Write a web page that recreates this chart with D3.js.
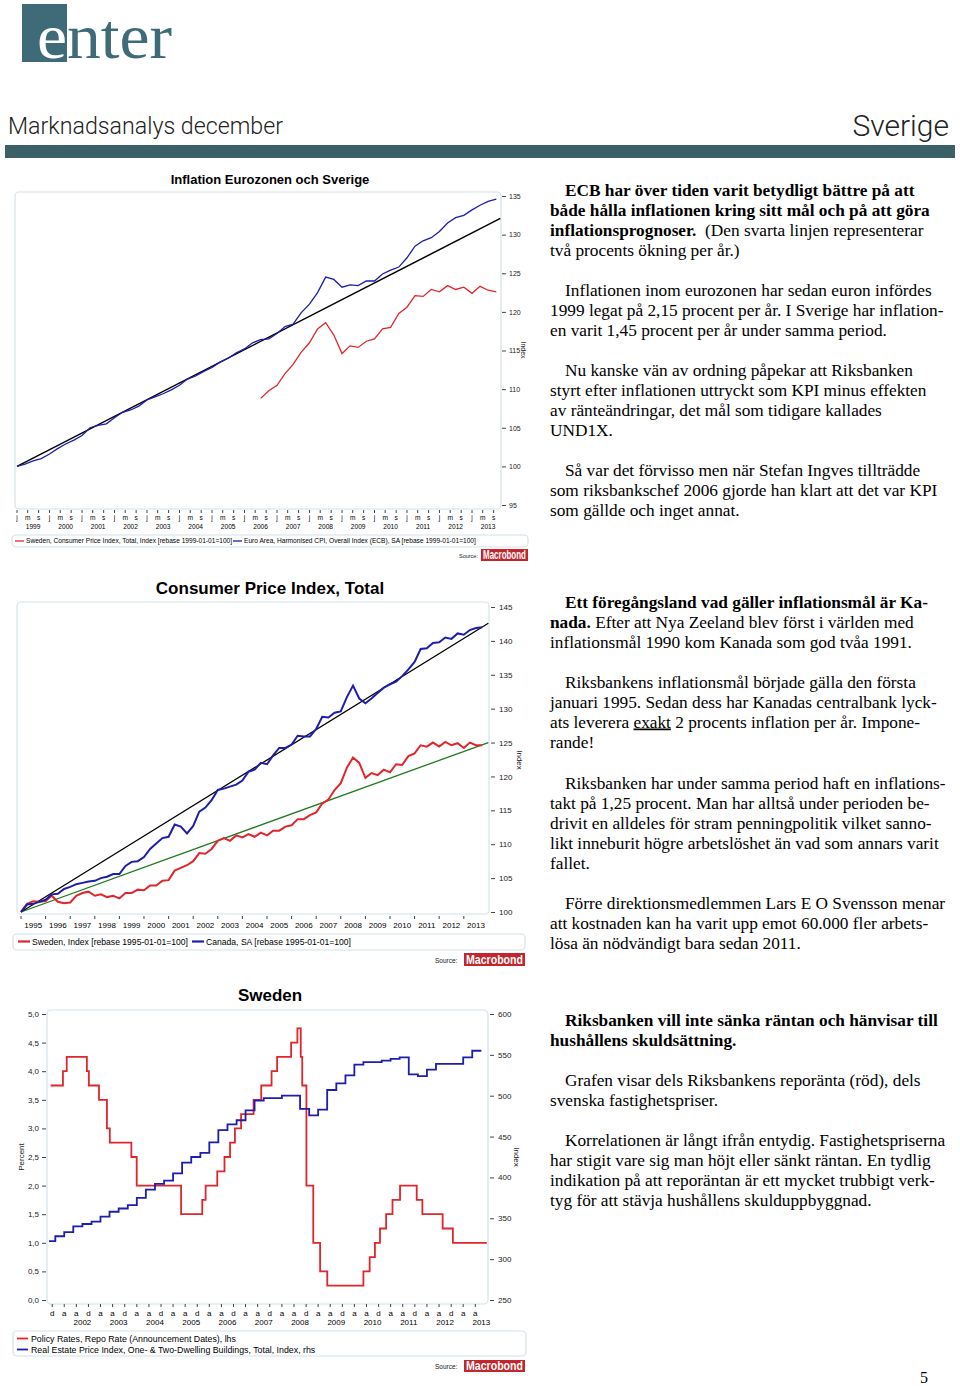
<!DOCTYPE html>
<html><head><meta charset="utf-8">
<script src="https://cdn.jsdelivr.net/npm/d3@7/dist/d3.min.js"></script>
<style>body{margin:0;background:#fff}svg{display:block}</style>
</head><body>
<svg id="page" width="960" height="1386"></svg>
<script>
// ---------------- DATA ----------------
// Chart 1: Inflation Eurozonen och Sverige (quarterly)
const c1SwedenStart = "2006-07-01";
const c1Sweden = [108.8,109.8, 110.5,112.0,113.2,114.8, 116.0,117.8,118.6,117.0, 114.6,115.6,115.4,116.2,
  116.5,117.8,118.0,119.8, 120.6,122.1,122.0,122.9, 122.6,123.4,122.9,123.2, 122.4,123.3,122.8,122.6];
const c1EuroStart = "1999-01-01";
const c1Euro = [100.0,100.3,100.7,101.0, 101.6,102.3,102.9,103.4, 104.0,105.0,105.3,105.5, 106.3,107.0,107.3,107.8,
  108.6,109.0,109.4,109.9, 110.5,111.3,111.7,112.3, 112.8,113.5,114.0,114.7, 115.2,116.0,116.4,116.5,
  117.2,118.1,118.4,119.9, 121.0,122.5,124.5,124.2, 123.2,123.5,123.4,124.0, 124.0,124.9,125.4,125.8,
  127.0,128.5,129.2,129.6, 130.4,131.5,132.2,132.5, 133.2,133.8,134.3,134.6];
const c1TrendDates = ["1999-01-01","2013-11-15"];
const c1Trend = [100, 132.1];
const c1YTicks = [95,100,105,110,115,120,125,130,135];
const c1Years = [1999,2000,2001,2002,2003,2004,2005,2006,2007,2008,2009,2010,2011,2012,2013];
const c1Legend = ["Sweden, Consumer Price Index, Total, Index [rebase 1999-01-01=100]",
                  "Euro Area, Harmonised CPI, Overall Index (ECB), SA [rebase 1999-01-01=100]"];

// Chart 2: Consumer Price Index, Total (quarterly, from 1995-01)
const c2Start = "1995-01-01";
const c2Sweden = [100.0,101.2,101.6,101.5, 101.6,102.4,101.5,101.3, 101.4,102.4,102.8,103.0, 102.4,102.6,102.2,102.4,
  102.0,102.8,102.8,103.3, 103.2,103.9,103.9,104.6, 104.7,106.1,106.5,106.9, 107.5,108.7,108.6,109.3,
  110.5,110.9,110.5,111.3, 111.0,111.5,111.1,111.7, 111.3,112.0,112.0,112.6, 112.8,113.7,113.7,114.3,
  114.7,116.0,116.6,118.0, 119.0,121.3,122.8,122.0, 119.8,120.5,120.2,121.0, 120.6,121.8,121.7,123.0,
  123.4,124.6,124.4,125.0, 124.4,125.1,124.6,124.9, 124.2,125.0,124.6,124.6];
const c2Canada = [100.0,101.1,101.2,101.5, 101.8,102.6,102.7,103.4, 103.7,104.1,104.3,104.5, 104.6,105.0,105.2,105.6,
  105.6,106.8,107.4,107.5, 108.1,109.3,110.1,110.9, 111.1,112.9,112.6,111.6, 112.7,114.8,115.4,116.5,
  118.0,118.2,118.5,118.8, 119.4,120.7,121.0,122.0, 121.8,123.1,124.2,124.2, 124.7,126.0,125.9,125.9,
  127.0,128.8,128.7,129.4, 129.6,131.7,133.4,131.5, 130.8,131.5,132.3,133.1, 133.6,134.0,134.8,135.8,
  136.9,138.8,138.9,139.7, 139.8,140.5,140.3,141.1, 140.9,141.6,141.9,142.0];
const c2TrendDates = ["1995-01-01","2013-12-31"];
const c2TrendCanada = [100, 142.6];
const c2TrendSweden = [100, 125.0];
const c2YTicks = [100,105,110,115,120,125,130,135,140,145];
const c2Years = [1995,1996,1997,1998,1999,2000,2001,2002,2003,2004,2005,2006,2007,2008,2009,2010,2011,2012,2013];
const c2Legend = ["Sweden, Index [rebase 1995-01-01=100]", "Canada, SA [rebase 1995-01-01=100]"];

// Chart 3: Sweden – repo rate (lhs) and real estate price index (rhs)
const c3RateDates = ["2001-11-15","2002-03-19","2002-04-26","2002-11-15","2002-12-05","2003-03-17","2003-06-05","2003-07-04",
  "2004-02-06","2004-03-31","2005-06-21","2006-01-20","2006-02-23","2006-06-20","2006-09-01","2006-10-27","2006-12-15",
  "2007-02-15","2007-06-21","2007-09-06","2007-12-19","2008-02-13","2008-07-03","2008-09-04","2008-10-08","2008-10-23",
  "2008-12-04","2009-02-11","2009-04-21","2009-07-02","2010-07-01","2010-09-02","2010-10-25","2010-12-15","2011-02-15",
  "2011-04-20","2011-07-05","2011-12-20","2012-02-15","2012-09-06","2012-12-18","2013-11-25"];
const c3Rate = [3.75,4.00,4.25,4.00,3.75,3.50,3.00,2.75,
  2.50,2.00,1.50,1.75,2.00,2.25,2.50,2.75,3.00,
  3.25,3.50,3.75,4.00,4.25,4.50,4.75,4.25,3.75,
  2.00,1.00,0.50,0.25,0.50,0.75,1.00,1.25,1.50,
  1.75,2.00,1.75,1.50,1.25,1.00,1.00];
const c3HouseStart = "2001-10-01";
const c3House = [322, 328,333,340,343, 346,352,358,362, 366,375,385,392, 396,405,418,425, 430,443,458,465,
  470,482,494,497, 497,500,500,484, 476,483,507,515, 525,538,541,541, 543,545,547,526, 524,532,539,539, 539,547,555,555];
const c3LeftTicks = [0,0.5,1,1.5,2,2.5,3,3.5,4,4.5,5];
const c3RightTicks = [250,300,350,400,450,500,550,600];
const c3Years = [2002,2003,2004,2005,2006,2007,2008,2009,2010,2011,2012,2013];
const c3Legend = ["Policy Rates, Repo Rate (Announcement Dates), lhs",
                  "Real Estate Price Index, One- & Two-Dwelling Buildings, Total, Index, rhs"];

// ---------------- STYLE ----------------
const RED = "#e0262c", BLUE = "#1d1db0", BLACK = "#000", GREEN = "#1f7a1f";
const FRAME = "#d4e2e8";
const SANS = "'Liberation Sans', Arial, sans-serif", SERIF = "'Liberation Serif', 'Times New Roman', serif";

const svg = d3.select("#page");
const parse = d3.timeParse("%Y-%m-%d");
const quarterly = (start, vals) => vals.map((v,i) => ({date: d3.timeMonth.offset(parse(start), i*3), value: v}));
const paired = (dates, vals) => vals.map((v,i) => ({date: parse(dates[i]), value: v}));

// ---------------- HEADER ----------------
svg.append("rect").attr("x",22).attr("y",4).attr("width",45).attr("height",58).attr("fill","#3f6a77");
const logo = svg.append("text").attr("x",37).attr("y",58).attr("font-family",SERIF).attr("font-size",64)
  .attr("textLength",135).attr("lengthAdjust","spacingAndGlyphs");
logo.append("tspan").attr("fill","#fff").text("e");
logo.append("tspan").attr("fill","#3f6a77").text("nter");
svg.append("text").attr("x",8).attr("y",134).attr("font-family","Roboto, sans-serif").attr("font-weight",300)
  .attr("font-size",24).attr("fill","#222").attr("textLength",275).attr("lengthAdjust","spacingAndGlyphs").text("Marknadsanalys december");
svg.append("text").attr("x",949).attr("y",136).attr("text-anchor","end").attr("font-family","Roboto, sans-serif").attr("font-weight",300)
  .attr("font-size",30).attr("fill","#222").text("Sverige");
svg.append("rect").attr("x",5).attr("y",145).attr("width",950).attr("height",13).attr("fill","#3b6067");

function macrobond(x, y, w, h, srcX, fs) {
  svg.append("text").attr("x",srcX).attr("y",y+h-3).attr("font-family",SANS).attr("font-size",fs).attr("fill","#222").text("Source:");
  svg.append("rect").attr("x",x).attr("y",y).attr("width",w).attr("height",h).attr("fill","#c4252c");
  svg.append("text").attr("x",x+w/2).attr("y",y+h-2).attr("text-anchor","middle").attr("font-family",SANS).attr("font-weight","bold")
    .attr("font-size",h).attr("fill","#fff").attr("textLength",w-4).attr("lengthAdjust","spacingAndGlyphs").text("Macrobond");
}
function frame(x,y,w,h){ svg.append("rect").attr("x",x).attr("y",y).attr("width",w).attr("height",h).attr("rx",4)
  .attr("fill","none").attr("stroke",FRAME).attr("stroke-width",1.2); }
function rotLabel(x,y,angle,text,fs){ svg.append("text").attr("transform",`translate(${x},${y}) rotate(${angle})`)
  .attr("text-anchor","middle").attr("font-family",SANS).attr("font-size",fs).attr("fill","#222").text(text); }

// ---------------- CHART 1 ----------------
{
  const x = d3.scaleTime().domain([parse("1999-01-01"), parse("2014-01-01")]).range([17, 504.5]);
  const y = d3.scaleLinear().domain([95,135]).range([505,196]);
  svg.append("text").attr("x",270).attr("y",184).attr("text-anchor","middle").attr("font-family",SANS).attr("font-weight","bold")
    .attr("font-size",13).text("Inflation Eurozonen och Sverige");
  frame(15,192,486,317);
  const ax = d3.axisRight(y).tickValues(c1YTicks).tickSize(4).tickPadding(3);
  const g = svg.append("g").attr("transform","translate(502,0)").call(ax);
  g.select(".domain").remove();
  g.selectAll("text").attr("font-family",SANS).attr("font-size",7).attr("fill","#222");
  g.selectAll("line").attr("stroke","#444");
  rotLabel(521,350,90,"Index",7);
  const mticks = d3.timeMonth.range(parse("1999-01-01"), parse("2013-11-01"), 4);
  const xt = svg.append("g");
  xt.selectAll("line").data(mticks).join("line").attr("x1",d=>x(d)).attr("x2",d=>x(d)).attr("y1",510).attr("y2",513).attr("stroke","#444");
  xt.selectAll("text.m").data(mticks).join("text").attr("class","m").attr("x",d=>x(d)).attr("y",520).attr("text-anchor","middle")
    .attr("font-family",SANS).attr("font-size",6.6).text(d=>d3.timeFormat("%b")(d)[0].toLowerCase());
  xt.selectAll("text.y").data(c1Years).join("text").attr("class","y").attr("x",d=>x(new Date(d,6,1))).attr("y",528.5)
    .attr("text-anchor","middle").attr("font-family",SANS).attr("font-size",6.6).text(d=>d);
  const line = d3.line().x(d=>x(d.date)).y(d=>y(d.value));
  svg.append("path").attr("d",line(paired(c1TrendDates,c1Trend))).attr("stroke",BLACK).attr("stroke-width",1.5).attr("fill","none");
  svg.append("path").attr("d",line(quarterly(c1SwedenStart,c1Sweden))).attr("stroke",RED).attr("stroke-width",1.3).attr("fill","none");
  svg.append("path").attr("d",line(quarterly(c1EuroStart,c1Euro))).attr("stroke",BLUE).attr("stroke-width",1.3).attr("fill","none");
  frame(12,535,516,12);
  svg.append("line").attr("x1",15).attr("x2",24).attr("y1",541).attr("y2",541).attr("stroke",RED).attr("stroke-width",1.3);
  svg.append("text").attr("x",26).attr("y",543.3).attr("font-family",SANS).attr("font-size",6.6).text(c1Legend[0]);
  svg.append("line").attr("x1",233).attr("x2",242).attr("y1",541).attr("y2",541).attr("stroke",BLUE).attr("stroke-width",1.3);
  svg.append("text").attr("x",244).attr("y",543.3).attr("font-family",SANS).attr("font-size",6.6).text(c1Legend[1]);
  macrobond(481,549,47,12,459,5.5);
}

// ---------------- CHART 2 ----------------
{
  const x = d3.scaleTime().domain([parse("1995-01-01"), parse("2014-01-01")]).range([21, 488.4]);
  const y = d3.scaleLinear().domain([100,145]).range([912,607]);
  svg.append("text").attr("x",270).attr("y",594).attr("text-anchor","middle").attr("font-family",SANS).attr("font-weight","bold")
    .attr("font-size",17).text("Consumer Price Index, Total");
  frame(17,602,472,312);
  const ax = d3.axisRight(y).tickValues(c2YTicks).tickSize(4).tickPadding(4);
  const g = svg.append("g").attr("transform","translate(491,0)").call(ax);
  g.select(".domain").remove();
  g.selectAll("text").attr("font-family",SANS).attr("font-size",8).attr("fill","#222");
  g.selectAll("line").attr("stroke","#444");
  rotLabel(517,760,90,"Index",8);
  const yt = c2Years.map(d=>new Date(d,0,1));
  const xt = svg.append("g");
  xt.selectAll("line").data(yt).join("line").attr("x1",d=>x(d)).attr("x2",d=>x(d)).attr("y1",916).attr("y2",919).attr("stroke","#444");
  xt.selectAll("text").data(c2Years).join("text").attr("x",d=>x(new Date(d,6,1))).attr("y",927.5)
    .attr("text-anchor","middle").attr("font-family",SANS).attr("font-size",8).text(d=>d);
  const line = d3.line().x(d=>x(d.date)).y(d=>y(d.value));
  svg.append("path").attr("d",line(paired(c2TrendDates,c2TrendSweden))).attr("stroke",GREEN).attr("stroke-width",1.3).attr("fill","none");
  svg.append("path").attr("d",line(paired(c2TrendDates,c2TrendCanada))).attr("stroke",BLACK).attr("stroke-width",1.3).attr("fill","none");
  svg.append("path").attr("d",line(quarterly(c2Start,c2Sweden))).attr("stroke",RED).attr("stroke-width",2).attr("fill","none");
  svg.append("path").attr("d",line(quarterly(c2Start,c2Canada))).attr("stroke",BLUE).attr("stroke-width",2).attr("fill","none");
  frame(13,934,512,16);
  svg.append("line").attr("x1",18).attr("x2",30).attr("y1",941.5).attr("y2",941.5).attr("stroke",RED).attr("stroke-width",2.2);
  svg.append("text").attr("x",32).attr("y",944.5).attr("font-family",SANS).attr("font-size",8.6).text(c2Legend[0]);
  svg.append("line").attr("x1",192).attr("x2",204).attr("y1",941.5).attr("y2",941.5).attr("stroke",BLUE).attr("stroke-width",2.2);
  svg.append("text").attr("x",206).attr("y",944.5).attr("font-family",SANS).attr("font-size",8.6).text(c2Legend[1]);
  macrobond(464,953,61,13,435,6.5);
}

// ---------------- CHART 3 ----------------
{
  const x = d3.scaleTime().domain([parse("2002-01-01"), parse("2014-01-01")]).range([55.3, 490.5]);
  const yl = d3.scaleLinear().domain([0,5]).range([1300,1014]);
  const yr = d3.scaleLinear().domain([250,600]).range([1300,1014]);
  svg.append("text").attr("x",270).attr("y",1001).attr("text-anchor","middle").attr("font-family",SANS).attr("font-weight","bold")
    .attr("font-size",17).text("Sweden");
  frame(47,1010,441,294);
  const fmt = d => d3.format(".1f")(d).replace(".",",");
  const gl = svg.append("g").attr("transform","translate(46,0)").call(d3.axisLeft(yl).tickValues(c3LeftTicks).tickFormat(fmt).tickSize(4).tickPadding(3));
  const gr = svg.append("g").attr("transform","translate(490,0)").call(d3.axisRight(yr).tickValues(c3RightTicks).tickSize(4).tickPadding(4));
  [gl,gr].forEach(g=>{ g.select(".domain").remove(); g.selectAll("text").attr("font-family",SANS).attr("font-size",8).attr("fill","#222");
    g.selectAll("line").attr("stroke","#444"); });
  rotLabel(24,1157,-90,"Percent",8);
  rotLabel(514,1157,90,"Index",8);
  const mticks = d3.timeMonth.range(parse("2001-12-01"), parse("2013-11-01"), 4);
  const xt = svg.append("g");
  xt.selectAll("line").data(mticks).join("line").attr("x1",d=>x(d)).attr("x2",d=>x(d)).attr("y1",1304).attr("y2",1307).attr("stroke","#444");
  xt.selectAll("text.m").data(mticks).join("text").attr("class","m").attr("x",d=>x(d)).attr("y",1316).attr("text-anchor","middle")
    .attr("font-family",SANS).attr("font-size",8).text(d=>d3.timeFormat("%b")(d)[0].toLowerCase());
  xt.selectAll("text.y").data(c3Years).join("text").attr("class","y").attr("x",d=>x(new Date(d,9,1))).attr("y",1325)
    .attr("text-anchor","middle").attr("font-family",SANS).attr("font-size",8).text(d=>d);
  svg.append("clipPath").attr("id","c3clip").append("rect").attr("x",49).attr("y",1005).attr("width",440).attr("height",300);
  const house = quarterly(c3HouseStart,c3House);
  const lr = d3.line().curve(d3.curveStepAfter).x(d=>x(d.date)).y(d=>yl(d.value));
  const lh = d3.line().curve(d3.curveStepAfter).x(d=>x(d.date)).y(d=>yr(d.value));
  svg.append("path").attr("clip-path","url(#c3clip)").attr("d",lr(paired(c3RateDates,c3Rate))).attr("stroke",RED).attr("stroke-width",1.8).attr("fill","none");
  svg.append("path").attr("clip-path","url(#c3clip)").attr("d",lh(house)).attr("stroke",BLUE).attr("stroke-width",1.8).attr("fill","none");
  frame(13,1331,513,25);
  svg.append("line").attr("x1",17).attr("x2",28).attr("y1",1338.5).attr("y2",1338.5).attr("stroke",RED).attr("stroke-width",1.8);
  svg.append("text").attr("x",31).attr("y",1341.5).attr("font-family",SANS).attr("font-size",8.8).text(c3Legend[0]);
  svg.append("line").attr("x1",17).attr("x2",28).attr("y1",1349.5).attr("y2",1349.5).attr("stroke",BLUE).attr("stroke-width",1.8);
  svg.append("text").attr("x",31).attr("y",1352.5).attr("font-family",SANS).attr("font-size",8.8).text(c3Legend[1]);
  macrobond(464,1360,61,12,435,6.5);
}

// ---------------- TEXT COLUMN ----------------
const paras = [
  {y:190, lines:[[["ECB har över tiden varit betydligt bättre på att",1]],[["både hålla inflationen kring sitt mål och på att göra",1]],
    [["inflationsprognoser.",1],["  (Den svarta linjen representerar",0]],[["två procents ökning per år.)",0]]]},
  {y:290, lines:[[["Inflationen inom eurozonen har sedan euron infördes",0]],[["1999 legat på 2,15 procent per år. I Sverige har inflation-",0]],
    [["en varit 1,45 procent per år under samma period.",0]]]},
  {y:370, lines:[[["Nu kanske vän av ordning påpekar att Riksbanken",0]],[["styrt efter inflationen uttryckt som KPI minus effekten",0]],
    [["av ränteändringar, det mål som tidigare kallades",0]],[["UND1X.",0]]]},
  {y:470, lines:[[["Så var det förvisso men när Stefan Ingves tillträdde",0]],[["som riksbankschef 2006 gjorde han klart att det var KPI",0]],
    [["som gällde och inget annat.",0]]]},
  {y:602, lines:[[["Ett föregångsland vad gäller inflationsmål är Ka-",1]],[["nada.",1],[" Efter att Nya Zeeland blev först i världen med",0]],
    [["inflationsmål 1990 kom Kanada som god tvåa 1991.",0]]]},
  {y:682, lines:[[["Riksbankens inflationsmål började gälla den första",0]],[["januari 1995. Sedan dess har Kanadas centralbank lyck-",0]],
    [["ats leverera ",0],["exakt",2],[" 2 procents inflation per år. Impone-",0]],[["rande!",0]]]},
  {y:783, lines:[[["Riksbanken har under samma period haft en inflations-",0]],[["takt på 1,25 procent. Man har alltså under perioden be-",0]],
    [["drivit en alldeles för stram penningpolitik vilket sanno-",0]],[["likt inneburit högre arbetslöshet än vad som annars varit",0]],[["fallet.",0]]]},
  {y:903, lines:[[["Förre direktionsmedlemmen Lars E O Svensson menar",0]],[["att kostnaden kan ha varit upp emot 60.000 fler arbets-",0]],
    [["lösa än nödvändigt bara sedan 2011.",0]]]},
  {y:1020, lines:[[["Riksbanken vill inte sänka räntan och hänvisar till",1]],[["hushållens skuldsättning.",1]]]},
  {y:1080, lines:[[["Grafen visar dels Riksbankens reporänta (röd), dels",0]],[["svenska fastighetspriser.",0]]]},
  {y:1140, lines:[[["Korrelationen är långt ifrån entydig. Fastighetspriserna",0]],[["har stigit vare sig man höjt eller sänkt räntan. En tydlig",0]],
    [["indikation på att reporäntan är ett mycket trubbigt verk-",0]],[["tyg för att stävja hushållens skulduppbyggnad.",0]]]}
];
paras.forEach(p => {
  p.lines.forEach((ln,i) => {
    const t = svg.append("text").attr("x", i===0 ? 565 : 550).attr("y", p.y + i*20 + 5.5)
      .attr("font-family",SERIF).attr("font-size",17.3).attr("fill","#000").attr("xml:space","preserve").style("white-space","pre");
    ln.forEach(([s,k]) => {
      const ts = t.append("tspan").text(s);
      if (k===1) ts.attr("font-weight","bold");
      if (k===2) ts.attr("text-decoration","underline");
    });
  });
});
svg.append("text").attr("x",920).attr("y",1383).attr("font-family",SERIF).attr("font-size",16).text("5");
</script>
</body></html>
